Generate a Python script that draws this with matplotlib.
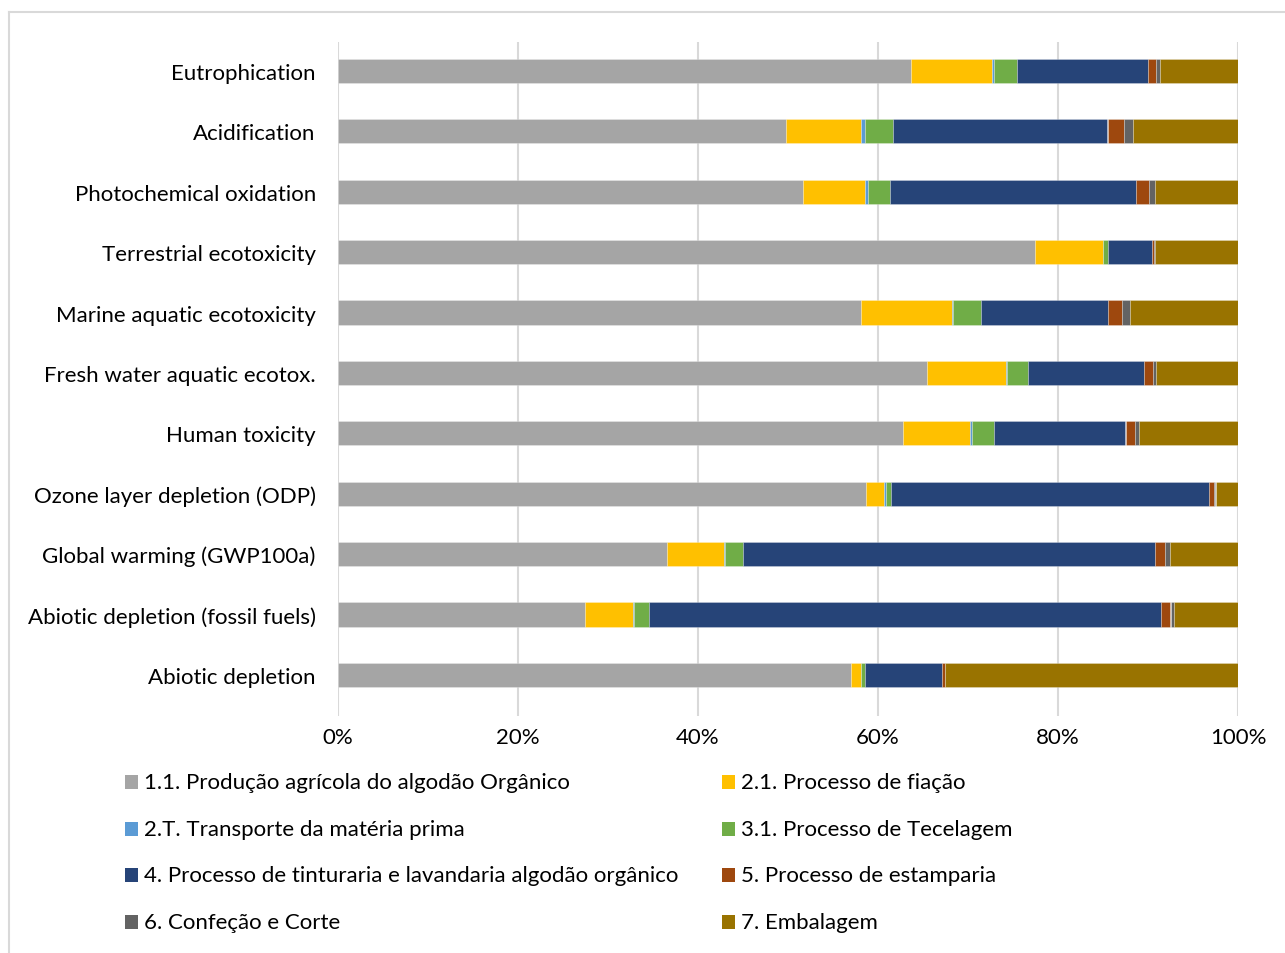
import matplotlib
matplotlib.use("Agg")
import matplotlib.pyplot as plt
from matplotlib.patches import Rectangle
from matplotlib.lines import Line2D
import numpy as np

plt.rcParams['font.family'] = ['Lato', 'DejaVu Sans']

# Impact categories, listed top to bottom
categories = [
    "Eutrophication",
    "Acidification",
    "Photochemical oxidation",
    "Terrestrial ecotoxicity",
    "Marine aquatic ecotoxicity",
    "Fresh water aquatic ecotox.",
    "Human toxicity",
    "Ozone layer depletion (ODP)",
    "Global warming (GWP100a)",
    "Abiotic depletion (fossil fuels)",
    "Abiotic depletion",
]

# Share (%) of each life-cycle stage per impact category
producao_agricola = [63.7, 49.8, 51.7, 77.4, 58.1, 65.5, 62.8, 58.7, 36.6, 27.4, 57.0]
fiacao = [9.0, 8.3, 6.9, 7.6, 10.1, 8.7, 7.4, 2.0, 6.3, 5.4, 1.1]
transporte = [0.2, 0.5, 0.3, 0.0, 0.1, 0.1, 0.2, 0.2, 0.1, 0.1, 0.0]
tecelagem = [2.5, 3.1, 2.4, 0.5, 3.2, 2.4, 2.5, 0.5, 2.0, 1.7, 0.5]
tinturaria = [14.6, 23.8, 27.4, 4.9, 14.1, 12.9, 14.6, 35.4, 45.8, 56.8, 8.5]
estamparia = [0.9, 1.8, 1.4, 0.3, 1.5, 0.9, 1.0, 0.5, 1.1, 1.1, 0.3]
confecao = [0.4, 1.0, 0.7, 0.1, 0.9, 0.4, 0.5, 0.2, 0.5, 0.4, 0.1]
embalagem = [8.7, 11.7, 9.2, 9.2, 12.0, 9.1, 11.0, 2.5, 7.6, 7.1, 32.5]

series_labels = [
    "1.1. Produção agrícola do algodão Orgânico",
    "2.1. Processo de fiação",
    "2.T. Transporte da matéria prima",
    "3.1. Processo de Tecelagem",
    "4. Processo de tinturaria e lavandaria algodão orgânico",
    "5. Processo de estamparia",
    "6. Confeção e Corte",
    "7. Embalagem",
]
series_values = [producao_agricola, fiacao, transporte, tecelagem,
                 tinturaria, estamparia, confecao, embalagem]
series_colors = ["#A5A5A5", "#FFC000", "#5B9BD5", "#70AD47",
                 "#264478", "#9E480E", "#636363", "#997300"]

FS = 16
W, H = 1285, 954
fig = plt.figure(figsize=(W / 100, H / 100), dpi=100)
fig.patch.set_facecolor("white")

# Chart frame (top and left edges visible)
fig.add_artist(Line2D([9 / W, 1.0], [1 - 13 / H, 1 - 13 / H], transform=fig.transFigure,
                      color="#D9D9D9", lw=1.5))
fig.add_artist(Line2D([9 / W, 9 / W], [0.0, 1 - 13 / H], transform=fig.transFigure,
                      color="#D9D9D9", lw=1.5))

ax = fig.add_axes([338 / W, 1 - 717 / H, 900 / W, 674 / H])

y = np.arange(len(categories))
left = np.zeros(len(categories))
for vals, col in zip(series_values, series_colors):
    v = np.array(vals)
    ax.barh(y, v, left=left, height=0.4, color=col,
            edgecolor=(1, 1, 1, 0.35), linewidth=0.5, zorder=3)
    left += v

ax.set_xlim(0, 100)
ax.set_ylim(10.68, -0.48)
ax.set_xticks(np.arange(0, 101, 20))
ax.set_xticklabels([f"{t}%" for t in range(0, 101, 20)])
ax.set_yticks(y)
ax.set_yticklabels(categories)
ax.tick_params(axis="both", length=0, labelsize=FS, colors="black")
ax.tick_params(axis="y", pad=16)
ax.tick_params(axis="x", pad=8)
ax.grid(axis="x", color="#D9D9D9", lw=1.5, zorder=0)
for s in ax.spines.values():
    s.set_visible(False)

# Legend in two columns, filled row by row
col_x = [125, 722]
row_y = [783, 830, 876, 923]
for i, (lab, col) in enumerate(zip(series_labels, series_colors)):
    cx = col_x[i % 2]
    cy = row_y[i // 2]
    fig.add_artist(Rectangle((cx / W, 1 - (cy + 7) / H), 13 / W, 14 / H,
                             transform=fig.transFigure, facecolor=col, edgecolor="none"))
    fig.text((cx + 19) / W, 1 - cy / H, lab, fontsize=FS, va="center", ha="left",
             color="black")

fig.savefig("out.png", dpi=100, facecolor="white")
